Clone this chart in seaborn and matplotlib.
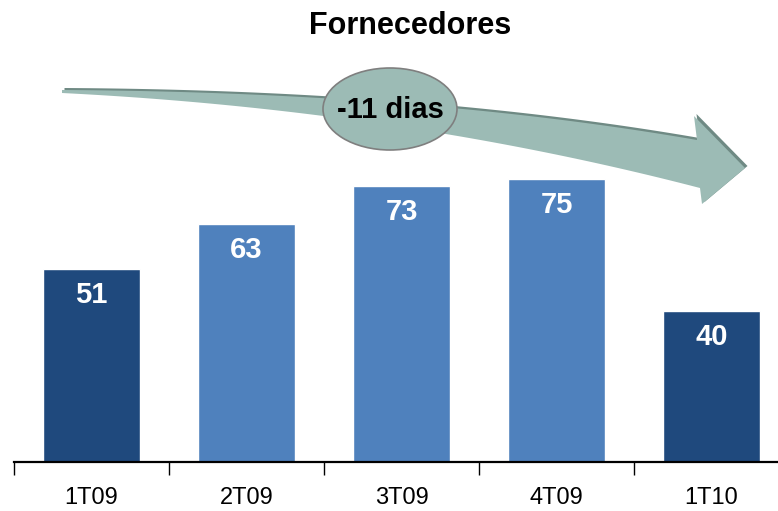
import numpy as np
import pandas as pd
import matplotlib
matplotlib.use("Agg")
import matplotlib.pyplot as plt
from matplotlib.patches import Polygon, Ellipse
import seaborn as sns

# data
quarters = ["1T09", "2T09", "3T09", "4T09", "1T10"]
days = [51, 63, 73, 75, 40]
bar_colors = ["#1F497D", "#4F81BD", "#4F81BD", "#4F81BD", "#1F497D"]
change_label = "-11 dias"
title = "Fornecedores"

df = pd.DataFrame({"quarter": quarters, "days": days})

sns.set_theme(style="white")
plt.rcParams["font.family"] = ["Liberation Sans", "DejaVu Sans"]
plt.rcParams["text.color"] = "black"
plt.rcParams["xtick.color"] = "black"

W, H = 778, 511
fig = plt.figure(figsize=(W / 100, H / 100), dpi=100)

# axes placed in pixel terms (x-axis runs off the right edge like the original)
ax = fig.add_axes([14 / W, 1 - 462 / H, 775 / W, (462 - 60) / H])
sns.barplot(data=df, x="quarter", y="days", hue="quarter", palette=bar_colors,
            width=0.62, legend=False, saturation=1, ax=ax)
ax.set_xlim(-0.5, len(quarters) - 0.5)
ax.set_ylim(0, 106.5)

for i, v in enumerate(days):
    ax.annotate(str(v), (i, v), xytext=(0, -26), textcoords="offset pixels",
                ha="center", va="center", color="white", fontsize=21,
                fontweight="bold")

for s in ["left", "right", "top"]:
    ax.spines[s].set_visible(False)
ax.spines["bottom"].set_color("black")
ax.spines["bottom"].set_linewidth(1.6)
ax.set_yticks([])
ax.set_xlabel("")
ax.set_ylabel("")
ax.set_xticks(np.arange(len(quarters)))
ax.set_xticklabels(quarters, fontsize=17, color="black")
ax.set_xticks(np.arange(len(quarters) + 1) - 0.5, minor=True)
ax.tick_params(axis="x", which="major", length=0, pad=18)
ax.tick_params(axis="x", which="minor", length=9, width=1, color="black",
               direction="out", bottom=True)

fig.text(410 / W, 1 - 26 / H, title, ha="center", va="center",
         fontsize=22, fontweight="bold", color="black")


# curved arrow, built in pixel space then converted to figure fraction
def bez(p0, p1, p2, n=60):
    t = np.linspace(0, 1, n)[:, None]
    p0, p1, p2 = map(np.array, (p0, p1, p2))
    return (1 - t) ** 2 * p0 + 2 * (1 - t) * t * p1 + t ** 2 * p2


upper = bez((62, 90), (420, 92), (697, 140))
lower = bez((62, 93), (400, 110), (700, 188))
head = np.array([(697, 140), (694, 116), (745, 168), (702, 204), (700, 188)])
pts = np.vstack([upper, head, lower[::-1]])


def to_fig(p):
    return np.column_stack([p[:, 0] / W, 1 - p[:, 1] / H])


shadow = to_fig(pts + np.array([2.5, -2.0]))
fig.patches.append(Polygon(shadow, closed=True, transform=fig.transFigure,
                           facecolor="#6F8A84", edgecolor="none"))
fig.patches.append(Polygon(to_fig(pts), closed=True, transform=fig.transFigure,
                           facecolor="#9CBBB5", edgecolor="none"))

fig.patches.append(Ellipse((390 / W, 1 - 109 / H), 134 / W, 82 / H,
                           transform=fig.transFigure, facecolor="#9CBBB5",
                           edgecolor="#7F7F7F", linewidth=1.2))
fig.text(390 / W, 1 - 110 / H, change_label, ha="center", va="center",
         fontsize=21, fontweight="bold", color="black")

fig.savefig("out.png", dpi=100)
